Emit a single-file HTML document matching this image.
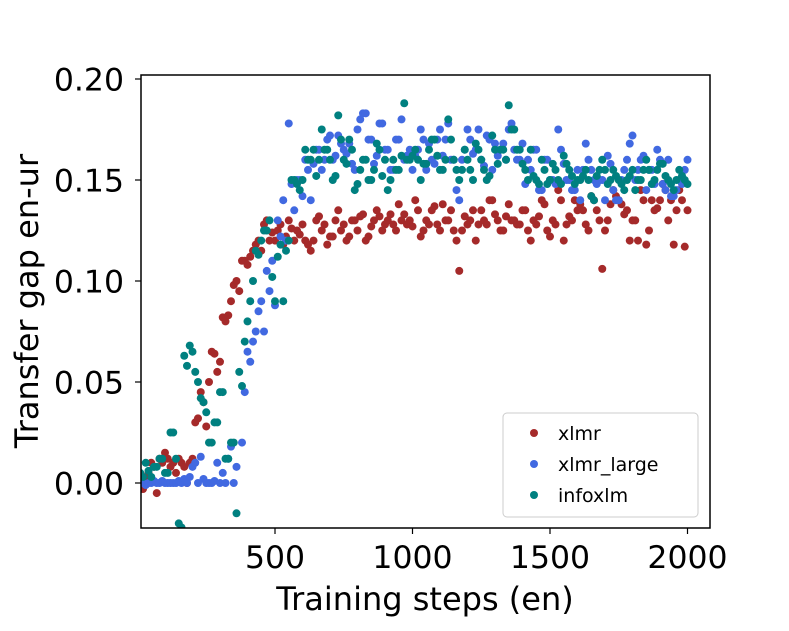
<!DOCTYPE html>
<html><head><meta charset="utf-8"><style>
body{margin:0;background:#fff}
svg{display:block;font-family:"DejaVu Sans","Liberation Sans",sans-serif}
</style></head><body>
<svg id="chart" width="789" height="631">
<defs><clipPath id="clip"><rect x="141" y="75" width="569" height="453"/></clipPath></defs>
<g id="marks" clip-path="url(#clip)"></g>
<rect x="141" y="75" width="569" height="453" fill="none" stroke="#000" stroke-width="1.5"/>
<g id="axes"></g>
<text x="425" y="610" font-size="32" text-anchor="middle">Training steps (en)</text>
<text transform="translate(38,301) rotate(-90)" font-size="32" text-anchor="middle">Transfer gap en-ur</text>
<g>
<rect x="503" y="413" width="195" height="104" rx="4" fill="#fff" fill-opacity="0.8" stroke="#ccc"/>
<g><circle cx="534" cy="433" r="4" fill="#a52a2a"/><text x="558" y="440" font-size="19">xlmr</text></g>
<g><circle cx="534" cy="464" r="4" fill="#4169e1"/><text x="558" y="471" font-size="19">xlmr_large</text></g>
<g><circle cx="534" cy="495" r="4" fill="#008080"/><text x="558" y="502" font-size="19">infoxlm</text></g>
</g>
</svg>
<script>
const steps = [];
for (let s = 10; s <= 2000; s += 10) steps.push(s);
const xlmr = [0,-0.003,0.002,0.005,0.01,0.008,-0.005,0.012,0.01,0.015,0.012,0.008,0.01,0.005,0.012,0.01,0.008,0,0.01,0.012,
0.03,0.032,0.045,0.04,0.028,0.05,0.065,0.064,0.055,0.06,0.082,0.08,0.083,0.09,0.098,0.1,0.095,0.11,0.11,0.108,
0.112,0.115,0.118,0.12,0.115,0.128,0.13,0.12,0.124,0.12,0.125,0.128,0.118,0.122,0.13,0.126,0.12,0.125,0.123,0.128,
0.12,0.118,0.115,0.12,0.13,0.132,0.125,0.128,0.118,0.122,0.122,0.13,0.135,0.125,0.128,0.12,0.122,0.13,0.13,0.125,
0.132,0.133,0.12,0.122,0.127,0.13,0.135,0.132,0.125,0.128,0.13,0.133,0.128,0.125,0.138,0.13,0.133,0.128,0.13,0.127,
0.14,0.135,0.122,0.125,0.13,0.128,0.135,0.137,0.128,0.125,0.138,0.13,0.13,0.135,0.125,0.12,0.105,0.125,0.132,0.128,
0.13,0.135,0.12,0.128,0.135,0.13,0.128,0.14,0.14,0.133,0.13,0.125,0.125,0.132,0.138,0.13,0.13,0.128,0.128,0.135,
0.135,0.125,0.12,0.13,0.128,0.132,0.14,0.138,0.125,0.122,0.13,0.128,0.145,0.14,0.12,0.128,0.132,0.13,0.14,0.135,
0.138,0.135,0.128,0.125,0.142,0.14,0.135,0.13,0.106,0.125,0.13,0.138,0.145,0.142,0.14,0.138,0.133,0.135,0.12,0.13,
0.13,0.12,0.145,0.14,0.118,0.125,0.14,0.135,0.136,0.14,0.148,0.145,0.13,0.14,0.118,0.135,0.145,0.14,0.117,0.135];
const xlmrLarge = [0.002,0,-0.001,0,0,0.001,0,0,0.001,0,0,0,0,0,0.001,0,0.002,0,0.003,0.008,
0.01,0,0.013,0.002,0,0,0,0.001,0.01,0,0.005,0,0.012,0.018,0,0.008,-0.025,0.02,0.045,0.065,
0.06,0.07,0.075,0.085,0.09,0.075,0.105,0.095,0.11,0.088,0.13,0.122,0.14,0.12,0.178,0.148,0.135,0.15,0.15,0.142,
0.16,0.155,0.14,0.158,0.165,0.165,0.155,0.16,0.17,0.172,0.16,0.162,0.172,0.168,0.165,0.163,0.168,0.158,0.155,0.175,
0.18,0.183,0.183,0.17,0.17,0.158,0.162,0.178,0.178,0.165,0.165,0.155,0.155,0.17,0.17,0.18,0.16,0.162,0.165,0.155,
0.162,0.165,0.175,0.17,0.155,0.168,0.16,0.158,0.17,0.175,0.162,0.17,0.178,0.16,0.16,0.145,0.14,0.16,0.165,0.175,
0.17,0.163,0.165,0.175,0.16,0.157,0.172,0.17,0.155,0.168,0.162,0.165,0.168,0.16,0.175,0.178,0.165,0.16,0.16,0.168,
0.148,0.16,0.155,0.165,0.165,0.145,0.145,0.16,0.16,0.15,0.15,0.148,0.175,0.165,0.158,0.15,0.15,0.145,0.145,0.155,
0.14,0.155,0.168,0.16,0.155,0.15,0.148,0.15,0.15,0.14,0.162,0.158,0.145,0.14,0.14,0.15,0.155,0.16,0.168,0.172,
0.15,0.155,0.16,0.162,0.145,0.155,0.155,0.148,0.165,0.16,0.148,0.145,0.16,0.142,0.142,0.145,0.15,0.148,0.155,0.16];
const infoxlm = [0.005,0.003,0.01,0.006,0.003,0.008,0.008,0.012,0.012,0.005,0.005,0.025,0.025,0.012,-0.02,-0.022,0.063,0.058,0.068,0.065,
0.055,0.05,0.042,0.04,0.035,0.02,0.02,0.03,0.03,0.045,0.045,0.012,0.012,0.02,0.02,-0.015,0.055,0.048,0.07,0.08,
0.09,0.1,0.115,0.113,0.12,0.125,0.125,0.13,0.102,0.09,0.112,0.118,0.09,0.115,0.12,0.15,0.15,0.148,0.145,0.15,
0.165,0.16,0.16,0.165,0.152,0.16,0.175,0.165,0.165,0.16,0.15,0.152,0.182,0.17,0.16,0.158,0.17,0.165,0.145,0.148,
0.155,0.16,0.16,0.15,0.15,0.155,0.168,0.165,0.152,0.16,0.145,0.15,0.16,0.155,0.155,0.162,0.188,0.16,0.16,0.162,
0.165,0.16,0.15,0.158,0.158,0.165,0.17,0.17,0.162,0.155,0.155,0.16,0.18,0.17,0.16,0.155,0.15,0.155,0.165,0.16,
0.155,0.15,0.168,0.165,0.16,0.155,0.15,0.152,0.172,0.165,0.158,0.165,0.165,0.16,0.187,0.175,0.175,0.165,0.165,0.158,
0.155,0.15,0.165,0.152,0.15,0.148,0.16,0.155,0.148,0.15,0.158,0.155,0.15,0.148,0.162,0.158,0.155,0.152,0.148,0.15,
0.15,0.152,0.155,0.15,0.142,0.14,0.152,0.155,0.16,0.155,0.148,0.15,0.155,0.152,0.15,0.148,0.145,0.15,0.152,0.155,
0.145,0.15,0.15,0.155,0.16,0.155,0.148,0.15,0.155,0.158,0.158,0.152,0.15,0.148,0.145,0.15,0.155,0.152,0.15,0.148];
const xTicks = [500,1000,1500,2000];
const yTicks = [0,0.05,0.10,0.15,0.20];
const yTickLabels = ["0.00","0.05","0.10","0.15","0.20"];

const NS = "http://www.w3.org/2000/svg";
function xs(v){ return 137.5 + v * 0.275; }
function ys(v){ return 483 - v * 2020; }
const marks = document.getElementById('marks');
const axes = document.getElementById('axes');
const series = [[xlmr,'#a52a2a','xlmr'],[xlmrLarge,'#4169e1','xlmr-large'],[infoxlm,'#008080','infoxlm']];
series.forEach(([vals,col,nm]) => {
  vals.forEach((v,i) => {
    const c = document.createElementNS(NS,'circle');
    c.setAttribute('cx', xs(steps[i]));
    c.setAttribute('cy', ys(v));
    c.setAttribute('r', 4);
    c.setAttribute('fill', col);
    
    
    marks.appendChild(c);
  });
});
xTicks.forEach(t => {
  const l = document.createElementNS(NS,'line');
  l.setAttribute('x1', xs(t)); l.setAttribute('x2', xs(t));
  l.setAttribute('y1', 528); l.setAttribute('y2', 534);
  l.setAttribute('stroke', '#000'); l.setAttribute('stroke-width', 1.2);
  
  
  axes.appendChild(l);
  const tx = document.createElementNS(NS,'text');
  tx.setAttribute('x', xs(t)); tx.setAttribute('y', 568);
  tx.setAttribute('font-size', 31.5); tx.setAttribute('text-anchor', 'middle');
  tx.textContent = t;
  
  
  axes.appendChild(tx);
});
yTicks.forEach((t,i) => {
  const l = document.createElementNS(NS,'line');
  l.setAttribute('x1', 135); l.setAttribute('x2', 141);
  l.setAttribute('y1', ys(t)); l.setAttribute('y2', ys(t));
  l.setAttribute('stroke', '#000'); l.setAttribute('stroke-width', 1.2);
  
  
  axes.appendChild(l);
  const tx = document.createElementNS(NS,'text');
  tx.setAttribute('x', 124); tx.setAttribute('y', ys(t) + 11.5);
  tx.setAttribute('font-size', 31.5); tx.setAttribute('text-anchor', 'end');
  tx.textContent = yTickLabels[i];
  
  
  axes.appendChild(tx);
});
</script>
</body></html>
